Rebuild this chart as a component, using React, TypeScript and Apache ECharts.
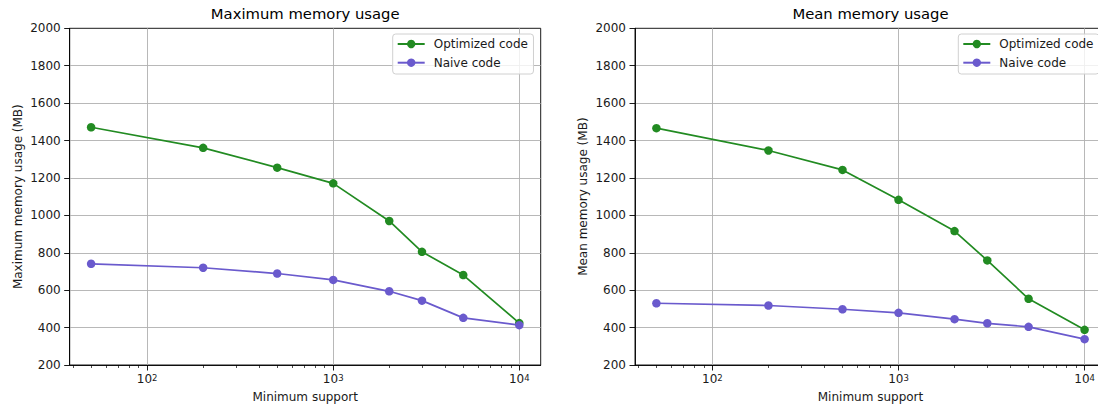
import React, { useEffect, useRef } from "react";
import * as echarts from "echarts";

// Minimum support values used for every run
const minSupport = [50, 200, 500, 1000, 2000, 3000, 5000, 10000];

// Maximum memory usage (MB)
const maxOptimized = [1471, 1361, 1255, 1171, 970, 805, 681, 424];
const maxNaive = [741, 720, 689, 655, 594, 544, 452, 413];

// Mean memory usage (MB)
const meanOptimized = [1466, 1347, 1243, 1083, 916, 759, 554, 388];
const meanNaive = [530, 518, 498, 479, 445, 423, 404, 338];

// Axis ticks
const yTicks = { min: 200, max: 2000, step: 200 };
const xMajorTicks = [100, 1000, 10000];
const xMinorTicks = [
  40, 50, 60, 70, 80, 90,
  200, 300, 400, 500, 600, 700, 800, 900,
  2000, 3000, 4000, 5000, 6000, 7000, 8000, 9000,
];

const panels = [
  { title: "Maximum memory usage", yName: "Maximum memory usage (MB)", optimized: maxOptimized, naive: maxNaive },
  { title: "Mean memory usage", yName: "Mean memory usage (MB)", optimized: meanOptimized, naive: meanNaive },
];

const GREEN = "#228B22";
const PURPLE = "#6A5ACD";
const GRID_GREY = "#b0b0b0";
const FONT = "DejaVu Sans";
const TEXT = "#1a1a1a";
const FS = 12;

// log-axis range padded by 5% of the data span on each side
const logLo = Math.log10(Math.min(...minSupport));
const logHi = Math.log10(Math.max(...minSupport));
const pad = (logHi - logLo) * 0.05;
const xMin = Math.pow(10, logLo - pad);
const xMax = Math.pow(10, logHi + pad);

const W = 1098;
const H = 405;
const grids = [
  { left: 69.7, top: 28.3, width: 471, height: 336.7 },
  { left: 635, top: 28.3, width: 471, height: 336.7 },
];
const legendLeft = [392.7, 958.3];

export default function App() {
  const ref = useRef<HTMLDivElement>(null);

  useEffect(() => {
    if (!ref.current) return;
    const chart = echarts.init(ref.current, undefined, { renderer: "svg" });

    const grid: any[] = [];
    const xAxis: any[] = [];
    const yAxis: any[] = [];
    const series: any[] = [];
    const title: any[] = [];
    const legend: any[] = [];

    panels.forEach((p, i) => {
      const g = grids[i];
      grid.push({
        left: g.left,
        top: g.top,
        width: g.width,
        height: g.height,
        outerBoundsMode: "none",
        containLabel: false,
        show: true,
        borderColor: "#000",
        borderWidth: 0.9,
        backgroundColor: "transparent",
      });
      title.push({
        text: p.title,
        left: g.left + g.width / 2,
        top: 6,
        padding: 0,
        textAlign: "center",
        textStyle: { fontFamily: FONT, fontSize: 14.8, fontWeight: "normal", color: "#000" },
      });
      // major log axis with labels
      xAxis.push({
        type: "log",
        logBase: 10,
        gridIndex: i,
        min: xMin,
        max: xMax,
        position: "bottom",
        name: "Minimum support",
        nameLocation: "middle",
        nameGap: 26,
        nameTextStyle: { fontFamily: FONT, fontSize: FS, color: TEXT },
        axisLine: { show: true, onZero: false, lineStyle: { color: "#000", width: 0.9 } },
        axisTick: {
          show: true,
          length: 5.5,
          customValues: xMajorTicks,
          lineStyle: { color: "#000", width: 0.9 },
        },
        axisLabel: {
          customValues: xMajorTicks,
          margin: 8,
          fontFamily: FONT,
          fontSize: FS,
          color: TEXT,
          formatter: (v: number) => `{b|10}{s|${Math.round(Math.log10(v))}}`,
          rich: {
            b: { fontFamily: FONT, fontSize: FS, color: TEXT, verticalAlign: "bottom" },
            s: { fontFamily: FONT, fontSize: 8.5, color: TEXT, verticalAlign: "top" },
          },
        },
        splitLine: { show: false },
      });
      // minor log ticks
      xAxis.push({
        type: "log",
        logBase: 10,
        gridIndex: i,
        min: xMin,
        max: xMax,
        position: "bottom",
        axisLine: { show: false },
        axisTick: {
          show: true,
          length: 3,
          customValues: xMinorTicks,
          lineStyle: { color: "#000", width: 0.7 },
        },
        axisLabel: { show: false },
        splitLine: { show: false },
      });
      yAxis.push({
        type: "value",
        gridIndex: i,
        min: yTicks.min,
        max: yTicks.max,
        interval: yTicks.step,
        name: p.yName,
        nameLocation: "middle",
        nameGap: 46,
        nameTextStyle: { fontFamily: FONT, fontSize: FS, color: TEXT },
        axisLine: { show: true, onZero: false, lineStyle: { color: "#000", width: 0.9 } },
        axisTick: { show: true, length: 5.5, lineStyle: { color: "#000", width: 0.9 } },
        axisLabel: {
          margin: 9,
          fontFamily: FONT,
          fontSize: FS,
          color: TEXT,
          formatter: (v: number) => String(v),
        },
        splitLine: {
          show: true,
          showMinLine: false,
          showMaxLine: false,
          lineStyle: { color: GRID_GREY, width: 0.9 },
        },
      });
      // vertical grid lines at the decades
      series.push({
        type: "line",
        name: "decade-grid",
        xAxisIndex: i * 2,
        yAxisIndex: i,
        data: [],
        silent: true,
        z: 1,
        markLine: {
          silent: true,
          symbol: ["none", "none"],
          label: { show: false },
          lineStyle: { color: GRID_GREY, width: 0.9, type: "solid" },
          emphasis: { disabled: true },
          data: xMajorTicks.map((v) => ({ xAxis: v })),
        },
      });
      const lines = [
        { name: "Optimized code", values: p.optimized, color: GREEN },
        { name: "Naive code", values: p.naive, color: PURPLE },
      ];
      lines.forEach((l) => {
        series.push({
          type: "line",
          name: l.name,
          xAxisIndex: i * 2,
          yAxisIndex: i,
          data: minSupport.map((x, k) => [x, l.values[k]]),
          symbol: "circle",
          symbolSize: 8.5,
          showSymbol: true,
          color: l.color,
          lineStyle: { color: l.color, width: 1.7 },
          itemStyle: { color: l.color },
          z: 5,
        });
      });
      legend.push({
        orient: "vertical",
        left: legendLeft[i],
        top: 34,
        data: ["Optimized code", "Naive code"],
        selectedMode: false,
        itemWidth: 27,
        itemHeight: 10.5,
        itemGap: 4.7,
        padding: [3, 5.6, 4.3, 4],
        backgroundColor: "rgba(255,255,255,0.8)",
        borderColor: "#d0d0d0",
        borderWidth: 1,
        borderRadius: 3,
        z: 10,
        textStyle: {
          fontFamily: FONT,
          fontSize: FS,
          lineHeight: 14,
          color: TEXT,
          padding: [0, 0, 0, 4],
        },
      });
    });

    chart.setOption({
      animation: false,
      backgroundColor: "#fff",
      title,
      legend,
      grid,
      xAxis,
      yAxis,
      series,
    });

    return () => chart.dispose();
  }, []);

  return (
    <div
      ref={ref}
      style={{ position: "fixed", left: 0, top: 0, width: W, height: H, background: "#fff" }}
    />
  );
}
